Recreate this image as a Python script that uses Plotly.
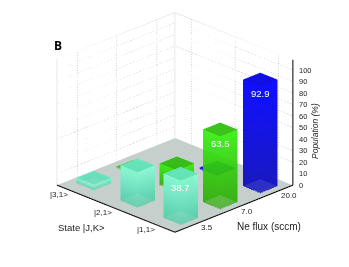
import plotly.graph_objects as go

fluxes = ["3.5", "7.0", "20.0"]
states = ["|1,1>", "|2,1>", "|3,1>"]
pop_3_5 = [38.7, 31.0, 5.0]
pop_7_0 = [63.5, 19.0, 1.0]
pop_20_0 = [92.9, 1.5, 0.0]
pops = [pop_3_5, pop_7_0, pop_20_0]
value_labels = {(0, 0): "38.7", (1, 0): "63.5", (2, 0): "92.9"}
z_ticks = list(range(0, 101, 10))
z_minor = list(range(5, 101, 10))
ZMAX = 109
HW = 0.22
FLUX_AT = [0.52, 1.52, 2.54]
STATE_AT = [0.37, 1.47, 2.58]
colors = [((140, 250, 215), (85, 205, 170)), ((50, 240, 10), (45, 170, 5)), ((10, 10, 255), (20, 20, 190))]
tops = ["rgb(95,225,185)", "rgb(40,175,5)", "rgb(10,10,225)"]
alphas = [0.8, 0.7, 0.85]

fig = go.Figure()


def line(xs, ys, zs, color, width, dash="solid"):
    fig.add_trace(go.Scatter3d(x=xs, y=ys, z=zs, mode="lines", hoverinfo="skip", showlegend=False,
                               line=dict(color=color, width=width, dash=dash)))


# floor
fig.add_trace(go.Mesh3d(x=[0, 3, 3, 0], y=[0, 0, 3, 3], z=[0, 0, 0, 0], i=[0, 0], j=[1, 2], k=[2, 3],
                        color="rgb(197,207,204)", hoverinfo="skip",
                        lighting=dict(ambient=1, diffuse=0, specular=0, fresnel=0)))

GRID = "rgb(165,172,172)"
for z in z_ticks[1:]:
    line([0, 3], [3, 3], [z, z], GRID, 1, "dot")
    line([3, 3], [3, 0], [z, z], GRID, 1, "dot")
line([0, 3, 3], [3, 3, 0], [ZMAX] * 3, "rgb(222,228,226)", 1.5)
for c in FLUX_AT:
    line([c, c], [3, 3], [0, ZMAX], GRID, 1, "dot")
for c in STATE_AT:
    line([3, 3], [c, c], [0, ZMAX], GRID, 1, "dot")
line([0, 0], [3, 3], [0, ZMAX], "rgb(222,228,226)", 1.5)
line([3, 3], [3, 3], [0, ZMAX], "rgb(222,228,226)", 1.5)

# bars: far ones first so that the blending reads correctly
order = sorted(((fi, si) for fi in range(3) for si in range(3)), key=lambda p: -(p[0] + p[1]))
for fi, si in order:
    v = pops[fi][si]
    if v <= 0:
        continue
    low = "rgb(%d,%d,%d)" % colors[fi][1]
    high = "rgb(%d,%d,%d)" % colors[fi][0]
    cx, cy = FLUX_AT[fi], STATE_AT[si]
    x0, x1, y0, y1 = cx - HW, cx + HW, cy - HW, cy + HW
    xs, ys, zs, vc, I, J, K = [], [], [], [], [], [], []

    def quad(pts, cols):
        n = len(xs)
        for p, col in zip(pts, cols):
            xs.append(p[0]); ys.append(p[1]); zs.append(p[2]); vc.append(col)
        I.extend([n, n]); J.extend([n + 1, n + 2]); K.extend([n + 2, n + 3])

    quad([(x1, y0, 0), (x1, y1, 0), (x1, y1, v), (x1, y0, v)], [low, low, high, high])
    quad([(x0, y1, 0), (x1, y1, 0), (x1, y1, v), (x0, y1, v)], [low, low, high, high])
    quad([(x0, y0, 0), (x1, y0, 0), (x1, y0, v), (x0, y0, v)], [low, low, high, high])
    quad([(x0, y0, 0), (x0, y1, 0), (x0, y1, v), (x0, y0, v)], [low, low, high, high])
    quad([(x0, y0, v), (x1, y0, v), (x1, y1, v), (x0, y1, v)], [tops[fi]] * 4)
    fig.add_trace(go.Mesh3d(x=xs, y=ys, z=zs, i=I, j=J, k=K, vertexcolor=vc, opacity=alphas[fi], hoverinfo="skip",
                            flatshading=True, lighting=dict(ambient=1, diffuse=0, specular=0, fresnel=0)))

# axes
line([3, 3], [0, 0], [0, ZMAX], "black", 2)
line([0, 3], [0, 0], [0, 0], "black", 2)
line([0, 0], [0, 3], [0, 0], "black", 2)

ann = []
F = "Liberation Sans"
for z in z_ticks:
    line([3, 3.05], [0, -0.05], [z, z], "black", 1.5)
    ann.append(dict(x=3, y=0, z=z, text=str(z), showarrow=False, xanchor="left", xshift=4,
                    font=dict(size=7.5, color="#222", family=F)))
for z in z_minor:
    line([3, 3.025], [0, -0.025], [z, z], "black", 1)
for k, t in enumerate(fluxes):
    line([FLUX_AT[k], FLUX_AT[k]], [0, -0.07], [0, 0], "black", 1.5)
    ann.append(dict(x=FLUX_AT[k], y=0, z=0, text=t, showarrow=False, xanchor="left", xshift=4, yshift=-3,
                    font=dict(size=8, color="#222", family=F)))
for k, t in enumerate(states):
    line([0, -0.07], [STATE_AT[k], STATE_AT[k]], [0, 0], "black", 1.5)
    ann.append(dict(x=0, y=STATE_AT[k], z=0, text=t, showarrow=False, xanchor="right", xshift=-3, yshift=-3,
                    font=dict(size=8, color="#222", family=F)))
for (fi, si), t in value_labels.items():
    ann.append(dict(x=FLUX_AT[fi], y=STATE_AT[si], z=pops[fi][si], text=t, showarrow=False, yshift=-14,
                    font=dict(size=9.5, color="white", family=F)))

cx_, cy_, cz_ = 0.04, -0.04, -0.156
fig.update_layout(
    width=349, height=267, margin=dict(l=0, r=0, t=0, b=0), paper_bgcolor="white", showlegend=False,
    scene=dict(
        domain=dict(x=[0, 1], y=[0, 1]),
        xaxis=dict(visible=False, range=[0, 3]),
        yaxis=dict(visible=False, range=[0, 3]),
        zaxis=dict(visible=False, range=[0, ZMAX]),
        aspectmode="manual", aspectratio=dict(x=1.25, y=1.25, z=1.025),
        camera=dict(eye=dict(x=-1.0 + cx_, y=-1.0 + cy_, z=0.616 + cz_), center=dict(x=cx_, y=cy_, z=cz_),
                    up=dict(x=0, y=0, z=1), projection=dict(type="orthographic")),
        annotations=ann,
    ),
    annotations=[
        dict(x=50 / 349, y=1 - 37 / 267, xref="paper", yref="paper", text="<b>B</b>", showarrow=False,
             xanchor="center", yanchor="middle", font=dict(size=12, color="black", family="Open Sans")),
        dict(x=73 / 349, y=1 - 219 / 267, xref="paper", yref="paper", text="State |J,K>", showarrow=False,
             xanchor="center", yanchor="middle", font=dict(size=9.5, color="#222", family=F)),
        dict(x=261 / 349, y=1 - 218 / 267, xref="paper", yref="paper", text="Ne flux (sccm)", showarrow=False,
             xanchor="center", yanchor="middle", font=dict(size=10, color="#222", family=F)),
        dict(x=307 / 349, y=1 - 123 / 267, xref="paper", yref="paper", text="<i>Population (%)</i>", textangle=-90,
             showarrow=False, xanchor="center", yanchor="middle", font=dict(size=8.5, color="#222", family=F)),
    ],
)
fig.write_html("out.html")
